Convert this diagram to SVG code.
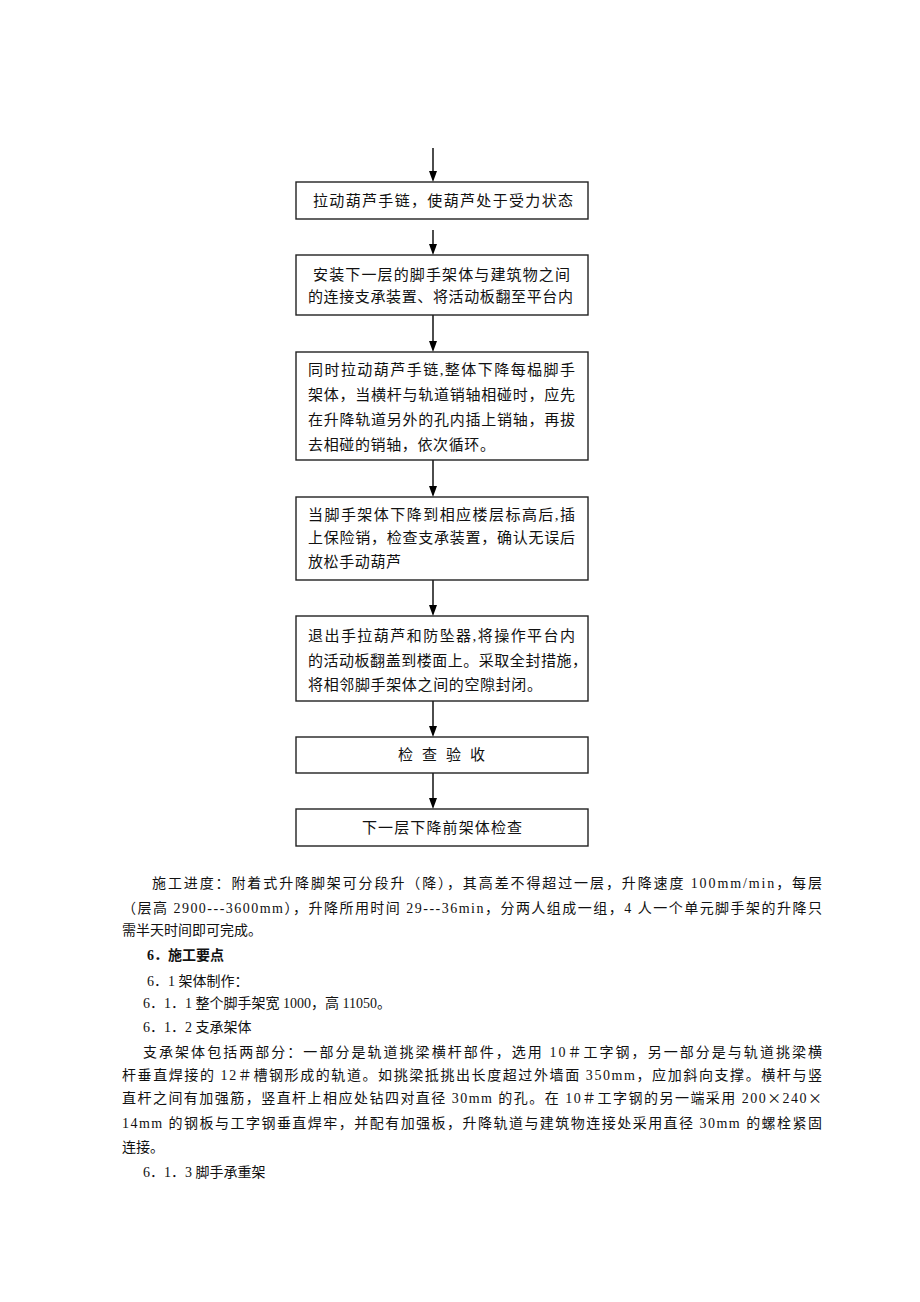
<svg xmlns="http://www.w3.org/2000/svg" width="920" height="1302" viewBox="0 0 920 1302">
<style>
.box{fill:#fff;stroke:#222;stroke-width:1.4}
.conn{stroke:#000;stroke-width:1.4;fill:none}
.head{fill:#000}
.bt{font-family:"Liberation Serif","Noto Sans CJK SC",serif;font-size:15px;fill:#111}
.pt{font-family:"Liberation Serif","Noto Sans CJK SC",serif;font-size:14px;fill:#111}
.cjk{font-family:"Noto Sans CJK SC",sans-serif}
.bold{font-weight:bold}
</style>
<rect width="920" height="1302" fill="#fff"/>
<g id="connectors">
<line class="conn" x1="433" y1="148" x2="433" y2="172"/>
<polygon class="head" points="429,171 437,171 433,182"/>
<line class="conn" x1="433" y1="230" x2="433" y2="245"/>
<polygon class="head" points="429,244 437,244 433,255"/>
<line class="conn" x1="433" y1="315" x2="433" y2="342"/>
<polygon class="head" points="429,341 437,341 433,352"/>
<line class="conn" x1="433" y1="460" x2="433" y2="487"/>
<polygon class="head" points="429,486 437,486 433,497"/>
<line class="conn" x1="433" y1="580" x2="433" y2="606"/>
<polygon class="head" points="429,605 437,605 433,616"/>
<line class="conn" x1="433" y1="701" x2="433" y2="727"/>
<polygon class="head" points="429,726 437,726 433,737"/>
<line class="conn" x1="433" y1="773" x2="433" y2="799"/>
<polygon class="head" points="429,798 437,798 433,809"/>
</g>
<g id="n1">
<rect class="box" x="296" y="182" width="292" height="37"/>
<text class="bt" x="313" y="206" textLength="260" lengthAdjust="spacing">拉动葫芦手链，使葫芦处于受力状态</text>
</g>
<g id="n2">
<rect class="box" x="296" y="255" width="292" height="60"/>
<text class="bt" x="313" y="280" textLength="257" lengthAdjust="spacing">安装下一层的脚手架体与建筑物之间</text>
<text class="bt" x="308" y="302" textLength="265" lengthAdjust="spacing">的连接支承装置、将活动板翻至平台内</text>
</g>
<g id="n3">
<rect class="box" x="296" y="352" width="292" height="108"/>
<text class="bt" x="308" y="375" textLength="267" lengthAdjust="spacing">同时拉动葫芦手链,整体下降每榀脚手</text>
<text class="bt" x="308" y="400" textLength="267" lengthAdjust="spacing">架体，当横杆与轨道销轴相碰时，应先</text>
<text class="bt" x="308" y="425" textLength="267" lengthAdjust="spacing">在升降轨道另外的孔内插上销轴，再拔</text>
<text class="bt" x="308" y="450" textLength="187" lengthAdjust="spacing">去相碰的销轴，依次循环。</text>
</g>
<g id="n4">
<rect class="box" x="296" y="497" width="292" height="83"/>
<text class="bt" x="308" y="520" textLength="267" lengthAdjust="spacing">当脚手架体下降到相应楼层标高后,插</text>
<text class="bt" x="308" y="543" textLength="267" lengthAdjust="spacing">上保险销，检查支承装置，确认无误后</text>
<text class="bt" x="308" y="567" textLength="93" lengthAdjust="spacing">放松手动葫芦</text>
</g>
<g id="n5">
<rect class="box" x="296" y="616" width="292" height="85"/>
<text class="bt" x="308" y="641" textLength="267" lengthAdjust="spacing">退出手拉葫芦和防坠器,将操作平台内</text>
<text class="bt" x="308" y="666" textLength="279" lengthAdjust="spacing">的活动板翻盖到楼面上。采取全封措施，</text>
<text class="bt" x="308" y="690" textLength="234" lengthAdjust="spacing">将相邻脚手架体之间的空隙封闭。</text>
</g>
<g id="n6">
<rect class="box" x="296" y="737" width="292" height="36"/>
<text class="bt" x="398" y="760" textLength="87" lengthAdjust="spacing">检 查 验 收</text>
</g>
<g id="n7">
<rect class="box" x="296" y="809" width="292" height="37"/>
<text class="bt" x="362" y="833" textLength="160" lengthAdjust="spacing">下一层下降前架体检查</text>
</g>
<g id="body">
<text class="pt" x="152" y="888" textLength="670" lengthAdjust="spacing">施工进度：附着式升降脚架可分段升（降），其高差不得超过一层，升降速度 100mm/min，每层</text>
<text class="pt" x="122" y="913" textLength="700" lengthAdjust="spacing">（层高 2900---3600mm），升降所用时间 29---36min，分两人组成一组，4 人一个单元脚手架的升降只</text>
<text class="pt" x="122" y="935">需半天时间即可完成。</text>
<text class="pt bold" x="147" y="960">6．施工要点</text>
<text class="pt" x="147" y="986">6．1 架体制作：</text>
<text class="pt" x="143" y="1008">6．1．1 整个脚手架宽 1000，高 11050。</text>
<text class="pt" x="143" y="1032">6．1．2 支承架体</text>
<text class="pt" x="143" y="1057" textLength="679" lengthAdjust="spacing">支承架体包括两部分：一部分是轨道挑梁横杆部件，选用 10＃工字钢，另一部分是与轨道挑梁横</text>
<text class="pt" x="122" y="1080" textLength="700" lengthAdjust="spacing">杆垂直焊接的 12＃槽钢形成的轨道。如挑梁抵挑出长度超过外墙面 350mm，应加斜向支撑。横杆与竖</text>
<text class="pt" x="122" y="1103" textLength="700" lengthAdjust="spacing">直杆之间有加强筋，竖直杆上相应处钻四对直径 30mm 的孔。在 10＃工字钢的另一端采用 200<tspan class="cjk">×</tspan>240<tspan class="cjk">×</tspan></text>
<text class="pt" x="122" y="1128" textLength="700" lengthAdjust="spacing">14mm 的钢板与工字钢垂直焊牢，并配有加强板，升降轨道与建筑物连接处采用直径 30mm 的螺栓紧固</text>
<text class="pt" x="122" y="1152">连接。</text>
<text class="pt" x="143" y="1177">6．1．3 脚手承重架</text>
</g>
</svg>
